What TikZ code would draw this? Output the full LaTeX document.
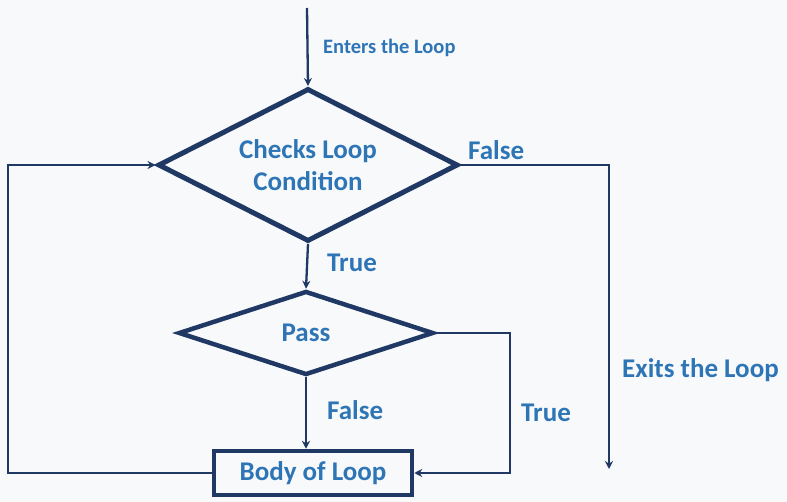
\documentclass[tikz,border=0pt]{standalone}
\usepackage{fontspec}
\setmainfont{Carlito}
\usetikzlibrary{shapes.geometric,arrows.meta}
\definecolor{navy}{HTML}{1F3864}
\definecolor{txtblue}{HTML}{2E75B6}
\definecolor{bg}{HTML}{F8F9FB}
\tikzset{
  dec/.style={shape=diamond,draw=navy,fill=bg,inner sep=0pt,line join=miter,text=txtblue,font=\fontsize{27}{32}\selectfont\bfseries,align=center},
  bodybox/.style={draw=navy,line width=4.5pt,fill=bg,minimum width=198pt,minimum height=44pt,inner sep=0pt,text=txtblue,font=\fontsize{27}{32}\selectfont\bfseries},
  conn/.style={draw=navy,line width=2.3pt},
  arr/.style={conn,-{Stealth[length=8pt,width=8pt]}},
  lbl/.style={text=txtblue,font=\fontsize{27}{32}\selectfont\bfseries,anchor=west,inner sep=0pt},
  smalllbl/.style={text=txtblue,font=\fontsize{20.5}{24}\selectfont\bfseries,anchor=west,inner sep=0pt}
}
\begin{document}
\begin{tikzpicture}[x=1pt,y=-1pt]
\fill[bg] (0,0) rectangle (787,502);
\useasboundingbox (0,0) rectangle (787,502);
\node[dec,aspect=2,line width=5pt,minimum width=300pt,minimum height=153pt] (cond) at (308,165) {Checks Loop\\Condition};
\node[dec,aspect=3,line width=4.5pt,minimum width=255pt,minimum height=84pt] (pass) at (306,333) {Pass};
\node[bodybox] (body) at (313,473) {Body of Loop};
\coordinate (start) at (307,8);
\coordinate (exitend) at (609,469);
\coordinate (rt) at (510,400);
\coordinate (lft) at (8,300);
\draw[arr] (start) -- (cond.north);
\draw[arr] (cond.east) -| (exitend);
\draw[arr] (cond.south) -- (pass.north);
\draw[arr] (pass.south) -- (pass.south |- body.north);
\draw[arr] (pass.east) -| (rt |- body.east) -- (body.east);
\draw[arr] (body.west) -| (lft) |- (cond.west);
\node[smalllbl] (enters) at (323,48) {Enters the Loop};
\node[lbl] (f1) at (468,150) {False};
\node[lbl] (t1) at (327,263) {True};
\node[lbl] (f2) at (327,410) {False};
\node[lbl] (t2) at (521,413) {True};
\node[lbl] (exits) at (622,370) {Exits the Loop};
\end{tikzpicture}
\end{document}
